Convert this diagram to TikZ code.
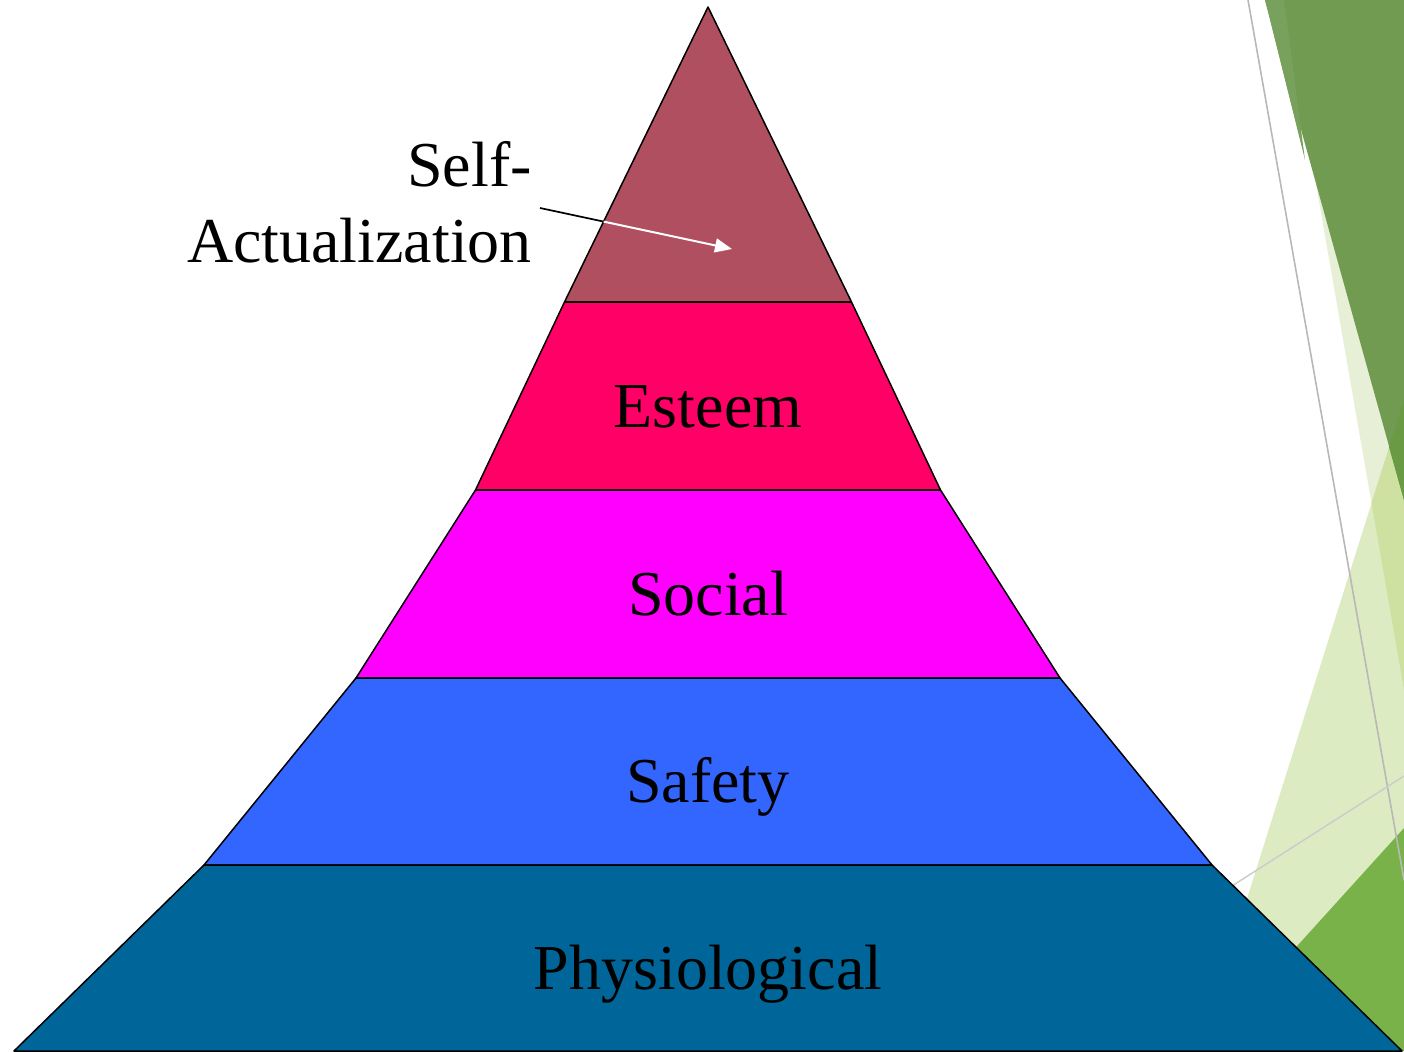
\documentclass[tikz,border=0pt]{standalone}
\usepackage{fontspec}
\setmainfont{Liberation Serif}
\usetikzlibrary{arrows.meta,intersections}
\tikzset{tier/.style={draw=black,line width=1.5pt,line join=round},
  tierlabel/.style={font=\fontsize{64}{77}\selectfont,anchor=base,inner sep=0pt}}
\begin{document}
\begin{tikzpicture}[x=1pt,y=-1pt]
\useasboundingbox (0,0) rectangle (1404,1051);
\pgfmathsetmacro\cx{708};
% slide decoration on the right
\definecolor{mycolor}{HTML}{E7F0D7}
\fill[mycolor] (1284,0) -- (1404,690) -- (1404,0) -- cycle;
\definecolor{mycolor}{HTML}{DDEBC2}
\fill[mycolor] (1404,400) -- (1199,1051) -- (1404,1051) -- cycle;
\definecolor{mycolor}{HTML}{CFE1A0}
\fill[mycolor] (1371.5,503) -- (1404,400) -- (1404,690) -- cycle;
\definecolor{mycolor}{HTML}{729B52}
\fill[mycolor] (1265,0) -- (1404,500) -- (1404,0) -- cycle;
\definecolor{mycolor}{HTML}{78A15E}
\fill[mycolor] (1265,0) -- (1284,0) -- (1305,160) -- cycle;
\definecolor{mycolor}{HTML}{6A9A44}
\fill[mycolor] (1389,447) -- (1404,400) -- (1404,500) -- cycle;
\definecolor{mycolor}{HTML}{7AB24A}
\fill[mycolor] (1404,828) -- (1202,1051) -- (1404,1051) -- cycle;
\draw[color=black!28, line width=1.6pt] (1248,0) -- (1404,880);
\draw[color=black!20, line width=1.5pt] (1404,776) -- (1210,900);
% pyramid
\coordinate (apex) at (\cx,7);
\foreach \n/\y/\w in {1/302/143.5,2/490/232.5,3/678/352,4/865/504,5/1051/694} {
  \coordinate (L\n) at (\cx-\w,\y);
  \coordinate (R\n) at (\cx+\w,\y);
}
\definecolor{mycolor}{HTML}{B04F5F}
\draw[tier, fill=mycolor] (apex) -- (L1) -- (R1) -- cycle;
\definecolor{mycolor}{HTML}{FF0066}
\draw[tier, fill=mycolor] (L1) -- (L2) -- (R2) -- (R1) -- cycle;
\definecolor{mycolor}{HTML}{FF00FF}
\draw[tier, fill=mycolor] (L2) -- (L3) -- (R3) -- (R2) -- cycle;
\definecolor{mycolor}{HTML}{3366FF}
\draw[tier, fill=mycolor] (L3) -- (L4) -- (R4) -- (R3) -- cycle;
\definecolor{mycolor}{HTML}{006699}
\draw[tier, fill=mycolor] (L4) -- (L5) -- (R5) -- (R4) -- cycle;
\node[tierlabel] (esteem) at (\cx,427) {Esteem};
\node[tierlabel] (social) at (\cx,615) {Social};
\node[tierlabel] (safety) at (\cx,802) {Safety};
\node[tierlabel] (physio) at (\cx,989) {Physiological};
\node[tierlabel, anchor=base east] (selfa) at (532,186) {Self-};
\node[tierlabel, anchor=base east] (selfb) at (532,262) {Actualization};
% arrow: black outside the top tier, white inside
\coordinate (arrtail) at (540,208);
\coordinate (arrhead) at (732,249);
\path[name path=leftedge] (apex) -- (L1);
\path[name path=arrline] (arrtail) -- (arrhead);
\path[name intersections={of=leftedge and arrline, by=cross}];
\draw[line width=1.7pt] (arrtail) -- (cross);
\draw[white, line width=2pt, -{Triangle[length=17pt,width=14pt]}] (cross) -- (arrhead);
\end{tikzpicture}
\end{document}
